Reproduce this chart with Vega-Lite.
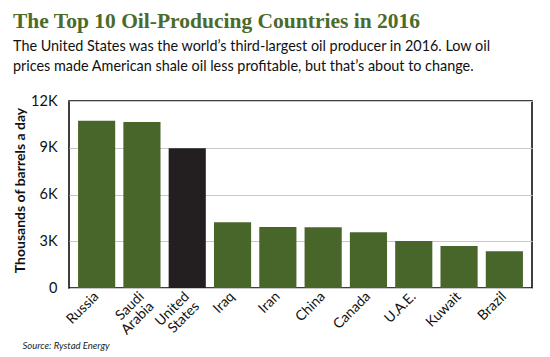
{
  "$schema": "https://vega.github.io/schema/vega-lite/v6.json",
  "autosize": {"type": "none"},
  "padding": {"left": 69, "top": 101, "right": 18, "bottom": 69},
  "width": 463,
  "height": 187,
  "background": "white",
  "title": {
    "text": "The Top 10 Oil-Producing Countries in 2016",
    "subtitle": ["The United States was the world\u2019s third-largest oil producer in 2016. Low oil", "prices made American shale oil less profitable, but that\u2019s about to change."],
    "anchor": "start",
    "frame": "group",
    "dx": -56,
    "offset": 20,
    "font": "Liberation Serif",
    "fontSize": 21.5,
    "fontWeight": "bold",
    "color": "#4a6b2a",
    "subtitleFont": "Lato",
    "subtitleFontSize": 14.4,
    "subtitleColor": "#111111",
    "subtitleLineHeight": 20,
    "subtitlePadding": 7
  },
  "data": {
    "values": [
      {"country": "Russia", "barrels": 10740, "group": "other"},
      {"country": "Saudi Arabia", "barrels": 10650, "group": "other"},
      {"country": "United States", "barrels": 8970, "group": "us"},
      {"country": "Iraq", "barrels": 4220, "group": "other"},
      {"country": "Iran", "barrels": 3910, "group": "other"},
      {"country": "China", "barrels": 3900, "group": "other"},
      {"country": "Canada", "barrels": 3580, "group": "other"},
      {"country": "U.A.E.", "barrels": 3010, "group": "other"},
      {"country": "Kuwait", "barrels": 2690, "group": "other"},
      {"country": "Brazil", "barrels": 2360, "group": "other"}
    ]
  },
  "mark": {"type": "bar"},
  "encoding": {
    "x": {
      "field": "country",
      "type": "nominal",
      "sort": null,
      "scale": {"paddingInner": 0.18, "paddingOuter": 0.2},
      "axis": {
        "title": "Source: Rystad Energy",
        "titleFont": "Lato",
        "titleFontStyle": "italic",
        "titleFontWeight": "normal",
        "titleFontSize": 9.5,
        "titleColor": "#222222",
        "titleAnchor": "start",
        "titleAlign": "left",
        "titleBaseline": "middle",
        "titleX": -47,
        "titleY": 57,
        "labelAngle": -45,
        "labelAlign": "right",
        "labelBaseline": "middle",
        "labelFont": "Lato",
        "labelFontSize": 14,
        "labelColor": "#111111",
        "labelPadding": 6,
        "labelExpr": "split(datum.label, ' ')",
        "labelLineHeight": 14,
        "ticks": false,
        "domain": false,
        "grid": false
      }
    },
    "y": {
      "field": "barrels",
      "type": "quantitative",
      "scale": {"domain": [0, 12000], "nice": false},
      "axis": {
        "title": "Thousands of barrels a day",
        "titleFont": "Lato",
        "titleFontSize": 14,
        "titleFontWeight": "bold",
        "titleColor": "#111111",
        "titlePadding": 3,
        "titleY": 89,
        "values": [0, 3000, 6000, 9000, 12000],
        "labelExpr": "datum.value == 0 ? '0' : (datum.value / 1000) + 'K'",
        "labelFont": "Lato",
        "labelFontSize": 14.5,
        "labelColor": "#111111",
        "labelPadding": 12,
        "ticks": false,
        "domain": false,
        "gridColor": "#c8c8c8",
        "gridWidth": 1
      }
    },
    "color": {
      "field": "group",
      "type": "nominal",
      "scale": {"domain": ["other", "us"], "range": ["#48652a", "#231f20"]},
      "legend": null
    }
  },
  "config": {
    "view": {"stroke": "#000000", "strokeWidth": 1.5}
  }
}
